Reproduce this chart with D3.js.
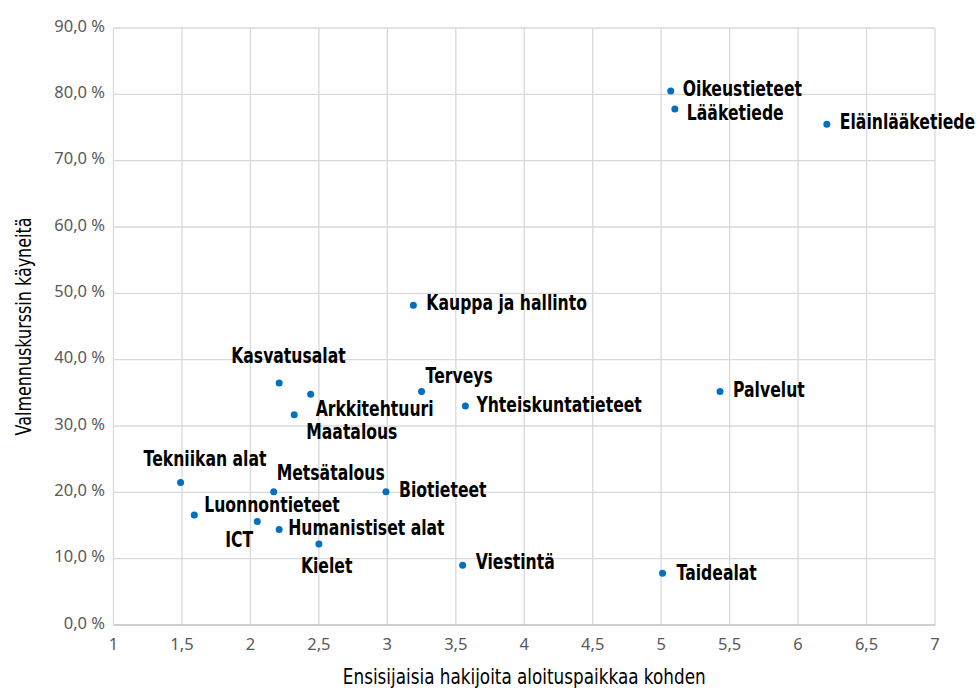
<!DOCTYPE html>
<html>
<head>
<meta charset="utf-8">
<script src="https://cdn.jsdelivr.net/npm/d3@7"></script>
<style>
  body { margin: 0; background: #fff; }
  svg { display: block; }
</style>
</head>
<body>
<div id="chart"></div>
<script>
// koulutusalat
var fields = ["Oikeustieteet", "Lääketiede", "Eläinlääketiede", "Kauppa ja hallinto",
  "Kasvatusalat", "Arkkitehtuuri", "Maatalous", "Terveys", "Yhteiskuntatieteet", "Palvelut",
  "Tekniikan alat", "Metsätalous", "Biotieteet", "Luonnontieteet", "ICT",
  "Humanistiset alat", "Kielet", "Viestintä", "Taidealat"];
// ensisijaisia hakijoita / aloituspaikka
var applicants = [5.07, 5.10, 6.21, 3.19, 2.21, 2.44, 2.32, 3.25, 3.57, 5.43,
  1.49, 2.17, 2.99, 1.59, 2.05, 2.21, 2.50, 3.55, 5.01];
// valmennuskurssin käyneitä (%)
var prepShare = [80.5, 77.8, 75.5, 48.2, 36.5, 34.8, 31.7, 35.2, 33.0, 35.2,
  21.5, 20.1, 20.1, 16.6, 15.6, 14.4, 12.2, 9.0, 7.8];
var xTicks = [1, 1.5, 2, 2.5, 3, 3.5, 4, 4.5, 5, 5.5, 6, 6.5, 7];
var yTicks = [0, 10, 20, 30, 40, 50, 60, 70, 80, 90];

// label offsets from the dot (dx, dy to text baseline start)
var labelOffset = {
  "Oikeustieteet": [12, 5], "Lääketiede": [12, 11], "Eläinlääketiede": [13, 5],
  "Kauppa ja hallinto": [13, 5], "Kasvatusalat": [-48, -20], "Arkkitehtuuri": [5, 22],
  "Maatalous": [12, 24], "Terveys": [4, -9], "Yhteiskuntatieteet": [11, 6],
  "Palvelut": [13, 5], "Tekniikan alat": [-37, -16], "Metsätalous": [3, -12],
  "Biotieteet": [13, 5], "Luonnontieteet": [10, -3], "ICT": [-32, 25],
  "Humanistiset alat": [9, 6], "Kielet": [-18, 29], "Viestintä": [13, 4],
  "Taidealat": [14, 7]
};

var W = 978, H = 691;
var fi = d3.formatLocale({decimal: ",", thousands: "\u00a0", grouping: [3], currency: ["", "€"]});
var fmtX = function(v){ return Number.isInteger(v) ? String(v) : fi.format(".1f")(v); };
var fmtY = function(v){ return fi.format(".1f")(v) + " %"; };

var x = d3.scaleLinear().domain([1, 7]).range([113.5, 935]);
var y = d3.scaleLinear().domain([0, 90]).range([625, 28]);

var svg = d3.select("#chart").append("svg")
    .attr("width", W)
    .attr("height", H);

// grid
svg.append("g").selectAll("line.vg")
    .data(xTicks)
    .enter().append("line")
    .attr("x1", function(d){ return x(d); })
    .attr("x2", function(d){ return x(d); })
    .attr("y1", y(90))
    .attr("y2", y(0))
    .style("stroke", "#d9d9d9")
    .style("stroke-width", 1.3);

svg.append("g").selectAll("line.hg")
    .data(yTicks)
    .enter().append("line")
    .attr("x1", x(1))
    .attr("x2", x(7))
    .attr("y1", function(d){ return y(d); })
    .attr("y2", function(d){ return y(d); })
    .style("stroke", function(d){ return d === 0 ? "#bfbfbf" : "#d9d9d9"; })
    .style("stroke-width", 1.3);

// tick labels
svg.append("g").selectAll("text")
    .data(xTicks)
    .enter().append("text")
    .attr("x", function(d){ return x(d); })
    .attr("y", y(0) + 25)
    .attr("text-anchor", "middle")
    .style("font-family", "'Noto Sans', sans-serif")
    .style("font-size", "16.5px")
    .style("fill", "#595959")
    .text(fmtX);

svg.append("g").selectAll("text")
    .data(yTicks)
    .enter().append("text")
    .attr("x", x(1) - 8.5)
    .attr("y", function(d){ return y(d) + 3.5; })
    .attr("text-anchor", "end")
    .style("font-family", "'Noto Sans', sans-serif")
    .style("font-size", "16.5px")
    .style("fill", "#595959")
    .text(fmtY);

// axis titles (narrowed horizontally to look like a condensed face)
svg.append("text")
    .attr("transform", "translate(" + ((x(1) + x(7)) / 2) + ",684) scale(0.765,1)")
    .attr("text-anchor", "middle")
    .style("font-family", "'DejaVu Sans', sans-serif")
    .style("font-size", "22px")
    .style("fill", "#000")
    .text("Ensisijaisia hakijoita aloituspaikkaa kohden");

svg.append("text")
    .attr("transform", "translate(31," + (y(45)) + ") rotate(-90) scale(0.725,1)")
    .attr("text-anchor", "middle")
    .style("font-family", "'DejaVu Sans', sans-serif")
    .style("font-size", "22px")
    .style("fill", "#000")
    .text("Valmennuskurssin käyneitä");

// points
var pts = fields.map(function(f, i){ return {name: f, ax: applicants[i], ps: prepShare[i]}; });

svg.append("g").selectAll("circle")
    .data(pts)
    .enter().append("circle")
    .attr("cx", function(d){ return x(d.ax); })
    .attr("cy", function(d){ return y(d.ps); })
    .attr("r", 3.5)
    .style("fill", "#0070c0");

svg.append("g").selectAll("text")
    .data(pts)
    .enter().append("text")
    .attr("transform", function(d){
      var o = labelOffset[d.name];
      return "translate(" + (x(d.ax) + o[0]) + "," + (y(d.ps) + o[1]) + ") scale(0.745,1)";
    })
    .style("font-family", "'DejaVu Sans', sans-serif")
    .style("font-weight", "bold")
    .style("font-size", "21px")
    .style("fill", "#000")
    .text(function(d){ return d.name; });
</script>
</body>
</html>
